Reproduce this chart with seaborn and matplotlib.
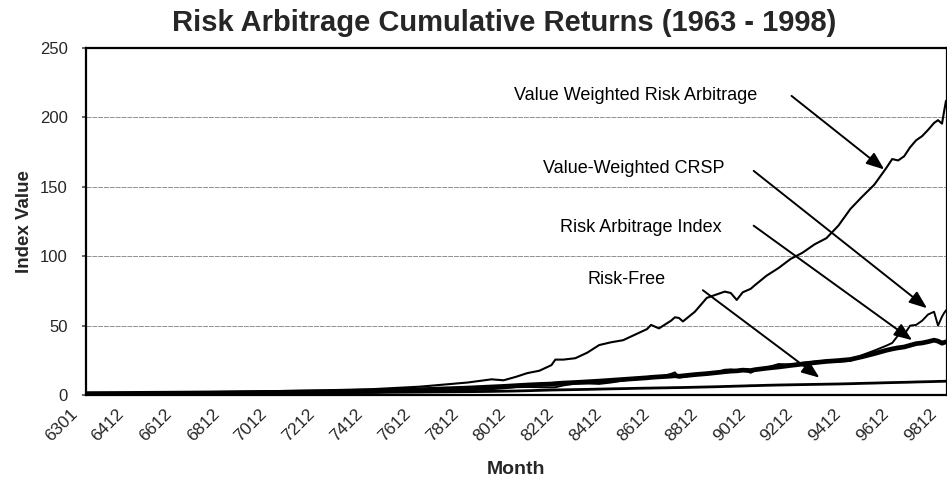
import matplotlib
matplotlib.use("Agg")
import matplotlib.pyplot as plt
import matplotlib.transforms as mtransforms
import seaborn as sns
import pandas as pd

# ---- data ----
months = [6301, 6412, 6612, 6812, 7012, 7212, 7412, 7612, 7812, 7912,
          8006, 8012, 8106, 8112, 8206, 8208, 8212, 8306, 8312, 8406,
          8412, 8506, 8512, 8606, 8608, 8612, 8706, 8708, 8710, 8712,
          8806, 8812, 8906, 8909, 8912, 9003, 9006, 9010, 9012, 9106,
          9112, 9206, 9212, 9306, 9312, 9406, 9412, 9506, 9512, 9606,
          9609, 9612, 9703, 9706, 9709, 9712, 9803, 9806, 9808, 9810,
          9811, 9812]

vw_risk_arb = [1.0, 1.3, 1.8, 2.3, 2.8, 3.4, 4.2, 6.0, 9.0, 11.3,
               10.6, 13.0, 15.8, 17.5, 21.5, 25.5, 25.5, 26.5, 30.5, 36.0,
               38.0, 39.5, 43.5, 47.5, 50.5, 48.0, 53.5, 56.0, 55.5, 53.0,
               60.0, 70.0, 73.0, 74.5, 73.5, 68.5, 74.0, 76.5, 79.0, 86.0,
               91.5, 98.0, 102.5, 108.5, 113.0, 122.0, 134.0, 143.0, 151.5, 163.5,
               170.0, 169.0, 172.0, 178.5, 183.5, 186.5, 191.0, 196.0, 198.0, 195.5,
               204.0, 212.0]

vw_crsp = [1.0, 1.25, 1.45, 1.75, 1.85, 2.35, 1.8, 2.9, 3.4, 4.2,
           4.8, 5.6, 5.8, 5.6, 5.5, 5.6, 6.9, 8.2, 8.3, 8.0,
           9.0, 10.4, 11.6, 13.0, 12.4, 13.0, 15.2, 16.3, 12.6, 13.0,
           14.3, 14.8, 16.8, 18.2, 18.4, 17.8, 18.6, 16.0, 17.6, 19.8,
           22.3, 22.0, 23.2, 24.0, 24.8, 24.0, 24.6, 28.8, 32.0, 35.5,
           37.5, 43.0, 43.5, 50.0, 50.5, 53.5, 58.0, 60.0, 50.0, 56.5,
           59.0, 61.0]

risk_arb_index = [1.0, 1.15, 1.35, 1.6, 1.9, 2.3, 2.9, 3.8, 5.0, 5.8,
                  6.2, 6.7, 7.2, 7.6, 7.9, 8.2, 8.6, 9.0, 9.5, 10.0,
                  10.6, 11.2, 11.8, 12.4, 12.7, 13.1, 13.6, 13.9, 13.5, 13.8,
                  14.7, 15.4, 16.3, 16.8, 17.2, 17.4, 17.9, 17.6, 18.2, 19.3,
                  20.2, 21.3, 22.3, 23.3, 24.2, 24.8, 25.6, 27.6, 29.8, 32.2,
                  33.2, 34.0, 34.6, 35.8, 37.0, 37.5, 38.4, 39.5, 38.8, 37.3,
                  37.8, 38.3]

risk_free = [1.0, 1.05, 1.15, 1.3, 1.45, 1.6, 1.85, 2.1, 2.4, 2.6,
             2.75, 2.9, 3.1, 3.35, 3.6, 3.65, 3.75, 3.9, 4.05, 4.25,
             4.45, 4.6, 4.8, 4.95, 5.0, 5.1, 5.25, 5.3, 5.35, 5.4,
             5.6, 5.8, 6.0, 6.15, 6.25, 6.4, 6.5, 6.7, 6.75, 7.0,
             7.2, 7.35, 7.5, 7.65, 7.8, 7.95, 8.15, 8.4, 8.6, 8.85,
             8.95, 9.05, 9.15, 9.25, 9.4, 9.5, 9.6, 9.7, 9.8, 9.85,
             9.9, 9.95]

tick_labels = ["6301", "6412", "6612", "6812", "7012", "7212", "7412", "7612",
               "7812", "8012", "8212", "8412", "8612", "8812", "9012", "9212",
               "9412", "9612", "9812"]

labels = ["Value Weighted Risk Arbitrage", "Value-Weighted CRSP",
          "Risk Arbitrage Index", "Risk-Free"]


def month_index(code):
    code = int(code)
    return (code // 100 - 63) * 12 + (code % 100) - 1


x = [month_index(m) for m in months]
df = pd.DataFrame({"idx": x, "vwra": vw_risk_arb, "crsp": vw_crsp,
                   "ra": risk_arb_index, "rf": risk_free})

sns.set_theme(style="white")
plt.rcParams["font.family"] = ["Liberation Sans", "DejaVu Sans"]

fig = plt.figure(figsize=(9.47, 4.87), dpi=100)
ax = fig.add_axes([0.0908, 0.1889, 0.9092, 0.7125])

sns.lineplot(data=df, x="idx", y="rf", ax=ax, color="black", linewidth=2.0)
sns.lineplot(data=df, x="idx", y="ra", ax=ax, color="black", linewidth=3.4)
sns.lineplot(data=df, x="idx", y="crsp", ax=ax, color="black", linewidth=1.4)
sns.lineplot(data=df, x="idx", y="vwra", ax=ax, color="black", linewidth=1.5)

ax.set_xlim(-0.5, 431.5)
ax.set_ylim(0, 250)
ax.set_yticks([0, 50, 100, 150, 200, 250])
ax.set_yticklabels(["0", "50", "100", "150", "200", "250"], fontsize=12)

# x tick labels drawn as rotated texts, shifted like the reference
tick_pos = [month_index(t) for t in tick_labels]
ax.set_xticks(tick_pos)
ax.set_xticklabels([])
shift = mtransforms.ScaledTranslation(-0.17, -0.11, fig.dpi_scale_trans)
base = mtransforms.blended_transform_factory(ax.transData, ax.transAxes)
for pos, lab in zip(tick_pos, tick_labels):
    ax.text(pos, 0, lab, transform=base + shift, rotation=45,
            rotation_mode="anchor", ha="right", va="top", fontsize=12.5,
            clip_on=False)

ax.tick_params(axis="y", length=3, pad=10, color="#555555", left=True)
ax.tick_params(axis="x", length=0)

ax.grid(axis="y", color="#909090", linewidth=0.7, linestyle=(0, (5, 1)))
ax.set_axisbelow(True)
for s in ax.spines.values():
    s.set_color("black")
    s.set_linewidth(1.6)

ax.set_xlabel("Month", fontsize=14, fontweight="bold", labelpad=44)
ax.set_ylabel("Index Value", fontsize=13.5, fontweight="bold", labelpad=5)
fig.suptitle("Risk Arbitrage Cumulative Returns (1963 - 1998)", fontsize=21,
             fontweight="bold", x=0.532, y=0.982)

# ---- annotations (text + arrows) ----
text_pos = [(336.5, 216.0), (320.0, 163.5), (318.5, 121.0), (290.5, 83.0)]
arrow_start = [(353.5, 215.5), (334.5, 161.5), (334.5, 122.0), (309.0, 75.5)]
arrow_tip = [(400.0, 162.5), (421.5, 62.5), (414.0, 39.5), (367.5, 12.5)]

for lab, tp, st, tip in zip(labels, text_pos, arrow_start, arrow_tip):
    ax.text(tp[0], tp[1], lab, fontsize=13, ha="right", va="center",
            color="black")
    ax.annotate("", xy=tip, xytext=st,
                arrowprops=dict(arrowstyle="-|>,head_length=0.9,head_width=0.35",
                                color="black", linewidth=1.4,
                                shrinkA=0, shrinkB=0))

fig.savefig("out.png", dpi=100, facecolor="white")
